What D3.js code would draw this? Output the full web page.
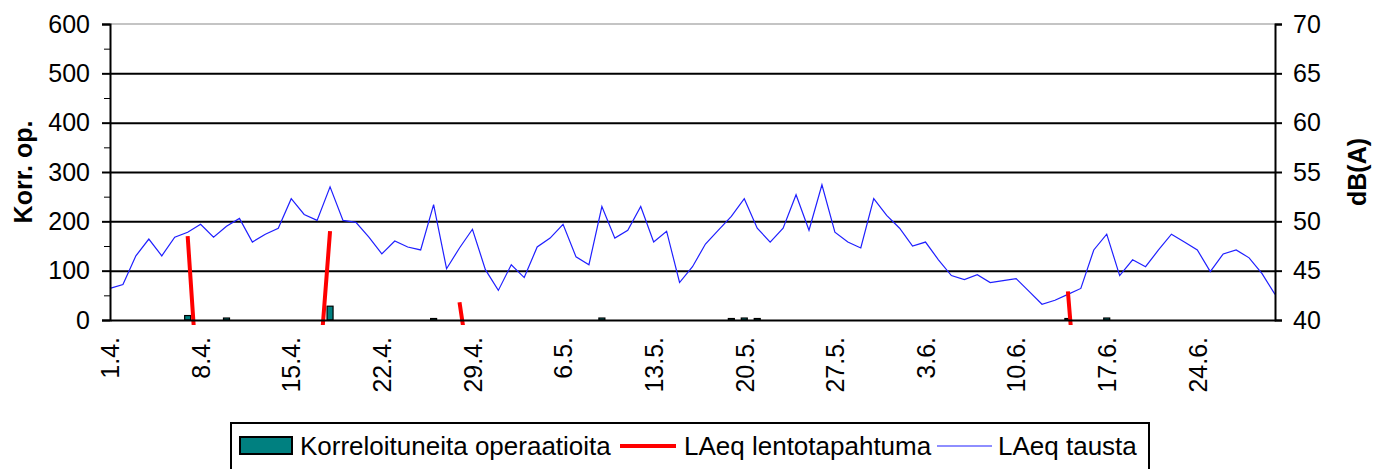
<!DOCTYPE html>
<html>
<head>
<meta charset="utf-8">
<script src="https://cdn.jsdelivr.net/npm/d3@7"></script>
<style>
  body { margin: 0; background: #fff; }
  text { font-family: "Liberation Sans", Arial, sans-serif; fill: #000; }
</style>
</head>
<body>
<div id="chart"></div>
<script>
// daily categories 1.4. - 30.6.
let categories = d3.timeDay
  .range(new Date(2005, 3, 1), new Date(2005, 6, 1))
  .map(d3.timeFormat("%-d.%-m."));

let tickDates = ["1.4.", "8.4.", "15.4.", "22.4.", "29.4.", "6.5.", "13.5.",
  "20.5.", "27.5.", "3.6.", "10.6.", "17.6.", "24.6."];

let leftTicks = [0, 100, 200, 300, 400, 500, 600];
let rightTicks = [40, 45, 50, 55, 60, 65, 70];

// Korreloituneita operaatioita (per day)
let correlatedOps = [
  0, 0, 0, 0, 0, 0, 9, 0, 0, 4, 0, 0, 0, 0, 0, 0, 0, 28, 0, 0,
  0, 0, 0, 0, 0, 3, 0, 0, 0, 0, 0, 0, 0, 0, 0, 0, 0, 0, 4, 0,
  0, 0, 0, 0, 0, 0, 0, 0, 3, 4, 3, 0, 0, 0, 0, 0, 0, 0, 0, 0,
  0, 0, 0, 0, 0, 0, 0, 0, 0, 0, 0, 0, 0, 0, 3, 0, 0, 4, 0, 0,
  0, 0, 0, 0, 0, 0, 0, 0, 0, 0, 0
];

// LAeq lentotapahtuma, dB(A), blank days left as null
let eventLevel = [
  null, null, null, null, null, null, 48.5, 29, null, null,
  null, null, null, null, null, null, 32, 49.0, null, null,
  null, null, null, null, null, null, null, 41.8, 33, null,
  null, null, null, null, null, null, null, null, null, null,
  null, null, null, null, null, null, null, null, null, null,
  null, null, null, null, null, null, null, null, null, null,
  null, null, null, null, null, null, null, null, null, null,
  null, null, null, null, 42.9, 27, null, null, null, null,
  null, null, null, null, null, null, null, null, null, null,
  null
];

// LAeq tausta, dB(A)
let backgroundLevel = [
  43.2, 43.6, 46.5, 48.2, 46.5, 48.4, 48.9, 49.7, 48.4, 49.5,
  50.3, 47.9, 48.7, 49.3, 52.3, 50.7, 50.1, 53.5, 50.1, 49.9,
  48.4, 46.7, 48.0, 47.4, 47.1, 51.7, 45.2, 47.3, 49.2, 45.1,
  43.0, 45.6, 44.3, 47.4, 48.3, 49.7, 46.4, 45.6, 51.5, 48.3,
  49.1, 51.5, 47.9, 49.0, 43.8, 45.4, 47.7, 49.1, 50.5, 52.3,
  49.3, 47.9, 49.3, 52.7, 49.1, 53.7, 48.9, 47.9, 47.3, 52.3,
  50.6, 49.3, 47.5, 47.9, 46.1, 44.5, 44.1, 44.6, 43.8, 44.0,
  44.2, 42.9, 41.6, 42.0, 42.6, 43.2, 47.1, 48.7, 44.5, 46.1,
  45.4, 47.1, 48.7, 47.9, 47.1, 44.9, 46.7, 47.1, 46.3, 44.7,
  42.6
];

let svgWidth = 1375;
let svgHeight = 469;

let margin = {
  top: 24,
  right: 100,
  bottom: 149,
  left: 110
};

let width = svgWidth - margin.left - margin.right;
let height = svgHeight - margin.top - margin.bottom;

let svg = d3.select("#chart")
  .append("svg")
  .attr("width", svgWidth)
  .attr("height", svgHeight)
  .style("display", "block");

let chartGroup = svg.append("g")
  .attr("transform", `translate(${margin.left}, ${margin.top})`);

let x = d3.scalePoint()
  .domain(categories)
  .range([0, width]);

let yLeft = d3.scaleLinear()
  .domain([0, 600])
  .range([height, 0]);

let yRight = d3.scaleLinear()
  .domain([40, 70])
  .range([height, 0]);

// plot border on top (grey) and gridlines
chartGroup.append("line")
  .attr("x1", 0).attr("x2", width)
  .attr("y1", 0).attr("y2", 0)
  .attr("stroke", "#b0b0b0")
  .attr("stroke-width", 1.5);

let grid = chartGroup.append("g")
  .call(d3.axisLeft(yLeft).tickValues([100, 200, 300, 400, 500]).tickSize(-width).tickFormat(""));
grid.select(".domain").remove();
grid.selectAll("line").attr("stroke", "#000").attr("stroke-width", 2);

// bars
chartGroup.append("g")
  .selectAll("rect")
  .data(categories.map((c, i) => ({cat: c, v: correlatedOps[i]})).filter(d => d.v > 0))
  .enter()
  .append("rect")
  .attr("x", d => x(d.cat) - 3)
  .attr("width", 6)
  .attr("y", d => yLeft(d.v))
  .attr("height", d => height - yLeft(d.v))
  .attr("fill", "#008080")
  .attr("stroke", "#000")
  .attr("stroke-width", 1.2);

// background line
let blueLine = d3.line()
  .x((d, i) => x(categories[i]))
  .y(d => yRight(d));

chartGroup.append("path")
  .datum(backgroundLevel)
  .attr("d", blueLine)
  .attr("fill", "none")
  .attr("stroke", "#1f1fff")
  .attr("stroke-width", 1.2);

// event line, clipped to the plot
svg.append("defs").append("clipPath")
  .attr("id", "plotClip")
  .append("rect")
  .attr("x", 0).attr("y", -2)
  .attr("width", width).attr("height", height + 7);

let redLine = d3.line()
  .defined(d => d != null)
  .x((d, i) => x(categories[i]))
  .y(d => yRight(d));

chartGroup.append("path")
  .datum(eventLevel)
  .attr("clip-path", "url(#plotClip)")
  .attr("d", redLine)
  .attr("fill", "none")
  .attr("stroke", "#ff0000")
  .attr("stroke-width", 4);

// axes
let leftAxis = chartGroup.append("g")
  .call(d3.axisLeft(yLeft).tickValues(leftTicks).tickSize(8).tickPadding(12));

chartGroup.append("g")
  .call(d3.axisLeft(yLeft).tickValues(d3.range(50, 600, 100)).tickSize(6).tickFormat(""))
  .select(".domain").remove();

let rightAxis = chartGroup.append("g")
  .attr("transform", `translate(${width}, 0)`)
  .call(d3.axisRight(yRight).tickValues(rightTicks).tickSize(7).tickPadding(11));

let bottomAxis = chartGroup.append("g")
  .attr("transform", `translate(0, ${height})`)
  .call(d3.axisBottom(x).tickValues(tickDates).tickSize(0));

bottomAxis.selectAll("text")
  .attr("transform", "rotate(-90)")
  .attr("text-anchor", "end")
  .attr("x", -17)
  .attr("y", 0)
  .attr("dy", "0.35em");

[leftAxis, rightAxis, bottomAxis].forEach(function(ax) {
  ax.selectAll(".domain").attr("stroke", "#000").attr("stroke-width", 2);
  ax.selectAll(".tick line").attr("stroke", "#000").attr("stroke-width", 2);
  ax.selectAll("text").style("font-size", "25px").attr("fill", "#000");
});

// axis titles
svg.append("text")
  .attr("transform", "translate(32, 172) rotate(-90)")
  .attr("text-anchor", "middle")
  .style("font-size", "25px")
  .style("font-weight", "bold")
  .text("Korr. op.");

svg.append("text")
  .attr("transform", "translate(1366, 172) rotate(-90)")
  .attr("text-anchor", "middle")
  .style("font-size", "25px")
  .style("font-weight", "bold")
  .text("dB(A)");

// legend
let legend = svg.append("g");

legend.append("rect")
  .attr("x", 231).attr("y", 423)
  .attr("width", 918).attr("height", 60)
  .attr("fill", "#fff")
  .attr("stroke", "#000")
  .attr("stroke-width", 2);

legend.append("rect")
  .attr("x", 240).attr("y", 437)
  .attr("width", 52).attr("height", 17)
  .attr("fill", "#008080")
  .attr("stroke", "#000")
  .attr("stroke-width", 2);

legend.append("line")
  .attr("x1", 620).attr("x2", 676)
  .attr("y1", 446).attr("y2", 446)
  .attr("stroke", "#ff0000")
  .attr("stroke-width", 4);

legend.append("line")
  .attr("x1", 937).attr("x2", 992)
  .attr("y1", 446).attr("y2", 446)
  .attr("stroke", "#1f1fff")
  .attr("stroke-width", 1.2);

let legendLabels = [
  {x: 300, label: "Korreloituneita operaatioita"},
  {x: 684, label: "LAeq lentotapahtuma"},
  {x: 998, label: "LAeq tausta"}
];

legend.selectAll(".legend-label")
  .data(legendLabels)
  .enter()
  .append("text")
  .attr("class", "legend-label")
  .attr("x", d => d.x)
  .attr("y", 455)
  .style("font-size", "26px")
  .text(d => d.label);
</script>
</body>
</html>
